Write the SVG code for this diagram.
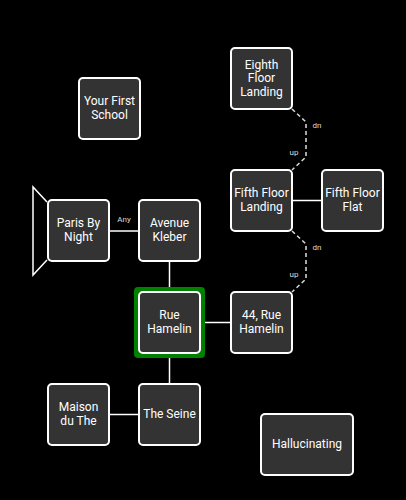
<svg xmlns="http://www.w3.org/2000/svg" width="406" height="500" viewBox="0 0 406 500">
<style>
.n{fill:#333333;stroke:#ffffff;stroke-width:2}
.t{fill:#ffffff;font-family:Roboto,"Liberation Sans",sans-serif;font-size:12px;text-anchor:middle}
.l{fill:#dddddd;font-family:Roboto,"Liberation Sans",sans-serif;font-size:8px;text-anchor:middle}
.c{fill:none;stroke:#ffffff;stroke-width:1.5}
.d{fill:none;stroke:#dddddd;stroke-width:1.5;stroke-dasharray:4 3}
</style>
<rect width="406" height="500" fill="#000000"/>
<g id="connectors">
<line class="c" x1="109" y1="231" x2="139" y2="231"/>
<line class="c" x1="169.5" y1="261" x2="169.5" y2="288"/>
<line class="c" x1="169.5" y1="357" x2="169.5" y2="384"/>
<line class="c" x1="204" y1="322.5" x2="231" y2="322.5"/>
<line class="c" x1="109" y1="414.5" x2="139" y2="414.5"/>
<line class="c" x1="292" y1="200.5" x2="322" y2="200.5"/>
<polyline class="d" points="292,109 306,122 306,157 292,170"/>
<polyline class="d" points="292,231 306,244 306,279 292,292"/>
<text class="l" x="124" y="222">Any</text>
<text class="l" x="317" y="128">dn</text>
<text class="l" x="294" y="155">up</text>
<text class="l" x="317" y="250">dn</text>
<text class="l" x="294" y="277">up</text>
</g>
<g id="school"><rect class="n" x="79" y="78" width="61" height="61" rx="4"/><text class="t" x="109.5" y="105">Your First</text><text class="t" x="109.5" y="118.5">School</text></g>
<g id="eighth"><rect class="n" x="231" y="48" width="61" height="61" rx="4"/><text class="t" x="261.5" y="68.5">Eighth</text><text class="t" x="261.5" y="82">Floor</text><text class="t" x="261.5" y="95.5">Landing</text></g>
<g id="fifthLanding"><rect class="n" x="231" y="170" width="61" height="61" rx="4"/><text class="t" x="261.5" y="197">Fifth Floor</text><text class="t" x="261.5" y="210.5">Landing</text></g>
<g id="fifthFlat"><rect class="n" x="322" y="170" width="61" height="61" rx="4"/><text class="t" x="352.5" y="197">Fifth Floor</text><text class="t" x="352.5" y="210.5">Flat</text></g>
<g id="paris"><polyline class="c" points="47,202 33,187 33,275 47,260"/><rect class="n" x="48" y="200" width="61" height="61" rx="4"/><text class="t" x="78.5" y="227">Paris By</text><text class="t" x="78.5" y="240.5">Night</text></g>
<g id="avenue"><rect class="n" x="139" y="200" width="61" height="61" rx="4"/><text class="t" x="169.5" y="227">Avenue</text><text class="t" x="169.5" y="240.5">Kleber</text></g>
<g id="rue"><rect x="134" y="287" width="71" height="71" rx="4" fill="#008000"/><rect class="n" x="139" y="292" width="61" height="61" rx="4"/><text class="t" x="169.5" y="319">Rue</text><text class="t" x="169.5" y="332.5">Hamelin</text></g>
<g id="rue44"><rect class="n" x="231" y="292" width="61" height="61" rx="4"/><text class="t" x="261.5" y="319">44, Rue</text><text class="t" x="261.5" y="332.5">Hamelin</text></g>
<g id="maison"><rect class="n" x="48" y="384" width="61" height="61" rx="4"/><text class="t" x="78.5" y="411">Maison</text><text class="t" x="78.5" y="424.5">du The</text></g>
<g id="seine"><rect class="n" x="139" y="384" width="61" height="61" rx="4"/><text class="t" x="169.5" y="418">The Seine</text></g>
<g id="halluc"><rect class="n" x="261" y="414" width="92" height="61" rx="4"/><text class="t" x="307" y="448">Hallucinating</text></g>
</svg>
